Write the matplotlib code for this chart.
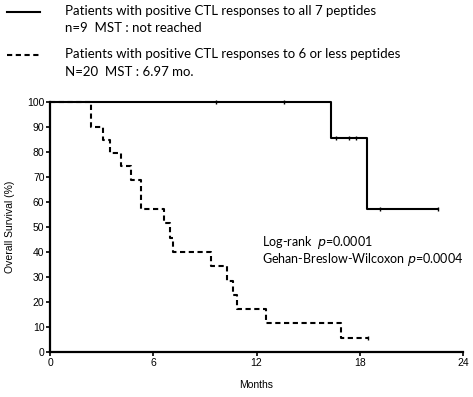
import matplotlib
matplotlib.use('Agg')
import matplotlib.pyplot as plt

# Kaplan-Meier curves (months, % surviving)
all7_times = [0, 16.32, 18.41, 22.54]
all7_surv = [100, 85.7, 57.1, 57.1]
all7_cens_t = [9.63, 13.6, 16.63, 17.35, 17.77, 19.19, 22.54]
all7_cens_s = [100, 100, 85.7, 85.7, 85.7, 57.1, 57.1]

less6_times = [0, 2.38, 3.06, 3.49, 4.13, 4.70, 5.29, 6.65, 6.98, 7.13,
               9.36, 10.27, 10.66, 10.85, 12.56, 16.92, 18.47]
less6_surv = [100, 90, 85, 79.7, 74.4, 68.8, 57.4, 51.7, 45.8, 40.1,
              34.4, 28.6, 22.9, 17.2, 11.5, 5.7, 5.7]
less6_cens_t = [18.47]
less6_cens_s = [5.7]

x_ticks = [0, 6, 12, 18, 24]
y_ticks = list(range(0, 101, 10))

legend_lines = [
    ("Patients with positive CTL responses to all 7 peptides", "n=9  MST : not reached"),
    ("Patients with positive CTL responses to 6 or less peptides", "N=20  MST : 6.97 mo."),
]

fig = plt.figure(figsize=(4.73, 3.97), dpi=100)
ax = fig.add_axes([50 / 473, 1 - 352 / 397, 413 / 473, 250 / 397])

lw = 1.5
dash = (0, (2.5, 1.7))
ax.step(all7_times, all7_surv, where='post', color='black', lw=lw, clip_on=False)
ax.plot(all7_cens_t, all7_cens_s, ls='none', marker='|', ms=3.5, mew=1, color='black', clip_on=False)
ax.step(less6_times, less6_surv, where='post', color='black', lw=lw, ls=dash, clip_on=False)
ax.plot(less6_cens_t, less6_cens_s, ls='none', marker='|', ms=3.5, mew=1, color='black', clip_on=False)

ax.set_xlim(0, 24)
ax.set_ylim(0, 100)
ax.set_xticks(x_ticks)
ax.set_yticks(y_ticks)
for s in ['top', 'right']:
    ax.spines[s].set_visible(False)
for s in ['left', 'bottom']:
    ax.spines[s].set_linewidth(1.6)
ax.tick_params(direction='out', length=3, width=1.2, labelsize=7.5, pad=1)
for lab in ax.get_xticklabels() + ax.get_yticklabels():
    lab.set_family('Liberation Sans')
ax.set_xlabel('Months', fontsize=7.5, family='Liberation Sans', labelpad=9)
ax.set_ylabel('Overall Survival (%)', fontsize=7.5, family='Liberation Sans', labelpad=9)

# p-values
ax.text(262 / 473, 1 - 243 / 397, 'Log-rank  $\\it{p}$=0.0001', transform=fig.transFigure,
        fontsize=9, family='Lato', va='center', ha='left')
ax.text(262 / 473, 1 - 259 / 397, 'Gehan-Breslow-Wilcoxon $\\it{p}$=0.0004', transform=fig.transFigure,
        fontsize=9, family='Lato', va='center', ha='left')

# legend at the top
ys = [(11, 28), (54, 72)]
styles = ['-', dash]
for (l1, l2), (y1, y2), st in zip(legend_lines, ys, styles):
    fig.add_artist(plt.Line2D([7 / 473, 40 / 473], [1 - (y1 + 1) / 397] * 2, color='black',
                              lw=lw, ls=st, transform=fig.transFigure))
    fig.text(65 / 473, 1 - y1 / 397, l1, fontsize=9.5, family='Lato', va='center')
    fig.text(65 / 473, 1 - y2 / 397, l2, fontsize=9.5, family='Lato', va='center')

fig.savefig('out.png', dpi=100)
